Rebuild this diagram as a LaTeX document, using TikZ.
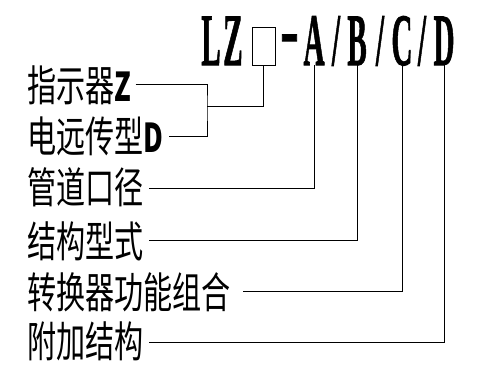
\documentclass[tikz,border=0pt]{standalone}
\usepackage{fontspec}
\newfontfamily\cjk{Noto Sans CJK SC}
\newfontfamily\titlefont[UprightFont={* Bold}, FakeBold=1.5]{Liberation Serif}
\newcommand{\latn}[1]{{\fontsize{28}{28}\selectfont\bfseries #1}}
\begin{document}
\begin{tikzpicture}[x=1pt,y=-1pt,
  ttl/.style={font=\titlefont\fontsize{56}{56}\selectfont, inner sep=0pt, anchor=base, xscale=0.52, yscale=1.32},
  lbl/.style={font=\cjk\fontsize{30}{30}\selectfont, inner sep=0pt, anchor=west, xscale=0.97, yscale=1.42},
  conn/.style={line width=1pt}]
\useasboundingbox (0,0) rectangle (479,375);
% title
\node[ttl] (L) at (211,65) {L};
\node[ttl] (Z) at (233,65) {Z};
\node[draw, line width=0.8pt, minimum width=23pt, minimum height=38pt, inner sep=0pt] (box) at (263.5,46) {};
\node[ttl, xscale=1.9, anchor=center] (dash) at (289.5,45) {-};
\node[ttl] (A) at (314,65) {A};
\node[ttl] (s1) at (336,65) {/};
\node[ttl] (B) at (357,65) {B};
\node[ttl] (s2) at (380,65) {/};
\node[ttl] (C) at (402,65) {C};
\node[ttl] (s3) at (422,65) {/};
\node[ttl] (D) at (444,65) {D};
% labels
\node[lbl] (l1) at (27,85) {指示器\latn{Z}};
\node[lbl] (l2) at (27,136) {电远传型\latn{D}};
\node[lbl] (l3) at (27,187) {管道口径};
\node[lbl] (l4) at (27,241) {结构型式};
\node[lbl] (l5) at (27,292) {转换器功能组合};
\node[lbl] (l6) at (27,341) {附加结构};
\coordinate (j) at (207,106);
% connectors
\draw[conn] ([xshift=4pt,yshift=1pt]l1.east) -| (j) |- ([xshift=5pt]l2.east);
\draw[conn] (box.south) |- (j);
\draw[conn] (A.south) |- ([xshift=5pt,yshift=-1pt]l3.east);
\draw[conn] (B.south) |- ([xshift=5pt,yshift=1pt]l4.east);
\draw[conn] (C.south) |- ([xshift=12pt,yshift=1pt]l5.east);
\draw[conn] (D.south) |- ([xshift=5pt,yshift=-1pt]l6.east);
\end{tikzpicture}
\end{document}
